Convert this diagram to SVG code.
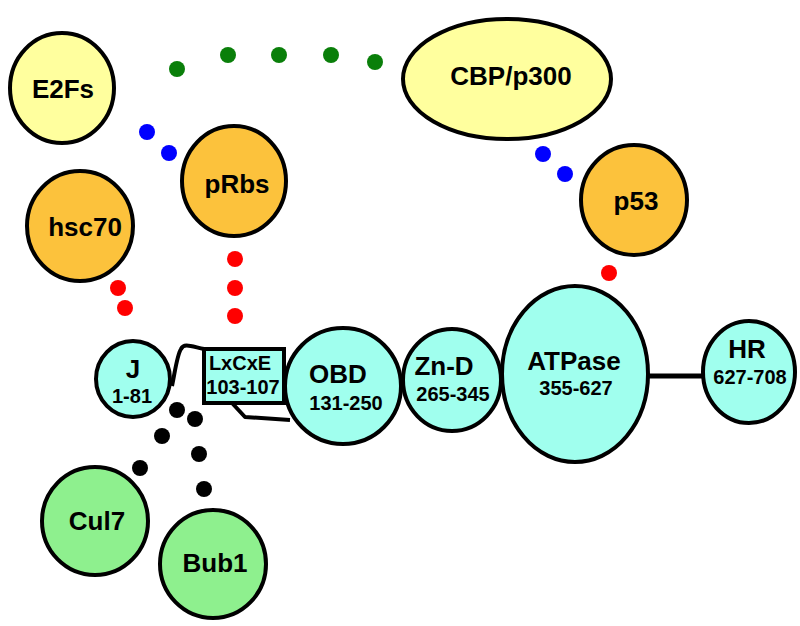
<svg xmlns="http://www.w3.org/2000/svg" width="800" height="626" viewBox="0 0 800 626">
<style>
.n{stroke:#000;stroke-width:4}
.y{fill:#FFFF9E}
.o{fill:#FCC23C}
.c{fill:#A0FFEE}
.g{fill:#8EF08E}
.t{font-family:"Liberation Sans",Arial,sans-serif;font-weight:bold;text-anchor:middle;fill:#000}
.l{font-size:26px}
.s{font-size:20px}
.gd{fill:#0A7F0A}
.bd{fill:#0000FF}
.rd{fill:#FF0000}
.kd{fill:#000}
.ln{fill:none;stroke:#000;stroke-width:4;stroke-linejoin:round}
</style>
<rect width="800" height="626" fill="#fff"/>
<g id="connectors">
  <path class="ln" d="M 172 386 C 175 372 177 355 181 349 C 184 343 190 346 204 349"/>
  <path class="ln" d="M 232 403 L 245 417 L 290 420"/>
  <line x1="646" y1="376" x2="705" y2="376" stroke="#000" stroke-width="5"/>
  <g class="gd">
    <circle cx="177" cy="69" r="8"/><circle cx="228" cy="55" r="8"/><circle cx="279" cy="55" r="8"/><circle cx="331" cy="55" r="8"/><circle cx="375" cy="62" r="8"/>
  </g>
  <g class="bd">
    <circle cx="147" cy="132" r="8"/><circle cx="169" cy="153" r="8"/>
    <circle cx="543" cy="154" r="8"/><circle cx="565" cy="174" r="8"/>
  </g>
  <g class="rd">
    <circle cx="118" cy="288" r="8"/><circle cx="125" cy="308" r="8"/>
    <circle cx="235" cy="259" r="8"/><circle cx="235" cy="288" r="8"/><circle cx="235" cy="316" r="8"/>
    <circle cx="609" cy="273" r="8"/>
  </g>
  <g class="kd">
    <circle cx="177" cy="410" r="8"/><circle cx="195" cy="419" r="8"/><circle cx="162" cy="436" r="8"/>
    <circle cx="199" cy="454" r="8"/><circle cx="140" cy="468" r="8"/><circle cx="204" cy="489" r="8"/>
  </g>
</g>
<g id="E2Fs"><ellipse class="n y" cx="62" cy="88" rx="52" ry="55"/><text class="t l" x="63" y="98">E2Fs</text></g>
<g id="CBP"><ellipse class="n y" cx="507" cy="79" rx="104" ry="60"/><text class="t l" x="511" y="85">CBP/p300</text></g>
<g id="pRbs"><ellipse class="n o" cx="234" cy="181" rx="52" ry="55"/><text class="t l" x="237" y="193">pRbs</text></g>
<g id="hsc70"><ellipse class="n o" cx="80" cy="226" rx="53" ry="55"/><text class="t l" x="85" y="236">hsc70</text></g>
<g id="p53"><ellipse class="n o" cx="634" cy="200" rx="53" ry="55"/><text class="t l" x="636" y="210">p53</text></g>
<g id="J"><ellipse class="n c" cx="133" cy="379" rx="37" ry="38"/><text class="t l" x="133" y="378">J</text><text class="t s" x="132" y="403">1-81</text></g>
<g id="LxCxE"><rect class="n c" x="204" y="349" width="80" height="54"/><text class="t s" x="240" y="370">LxCxE</text><text class="t s" x="243" y="394">103-107</text></g>
<g id="OBD"><ellipse class="n c" cx="343" cy="386" rx="58" ry="58"/><text class="t l" x="338" y="383">OBD</text><text class="t s" x="346" y="410">131-250</text></g>
<g id="ZnD"><ellipse class="n c" cx="452" cy="380" rx="49" ry="51"/><text class="t l" x="444" y="375">Zn-D</text><text class="t s" x="453" y="401">265-345</text></g>
<g id="ATPase"><ellipse class="n c" cx="575" cy="374" rx="73" ry="88"/><text class="t l" x="574" y="370">ATPase</text><text class="t s" x="576" y="395">355-627</text></g>
<g id="HR"><ellipse class="n c" cx="749" cy="372" rx="46" ry="51"/><text class="t l" x="747" y="358">HR</text><text class="t s" x="750" y="384">627-708</text></g>
<g id="Cul7"><ellipse class="n g" cx="95" cy="521" rx="53" ry="54"/><text class="t l" x="97" y="530">Cul7</text></g>
<g id="Bub1"><ellipse class="n g" cx="213" cy="564" rx="53" ry="54"/><text class="t l" x="215" y="572">Bub1</text></g>
</svg>
